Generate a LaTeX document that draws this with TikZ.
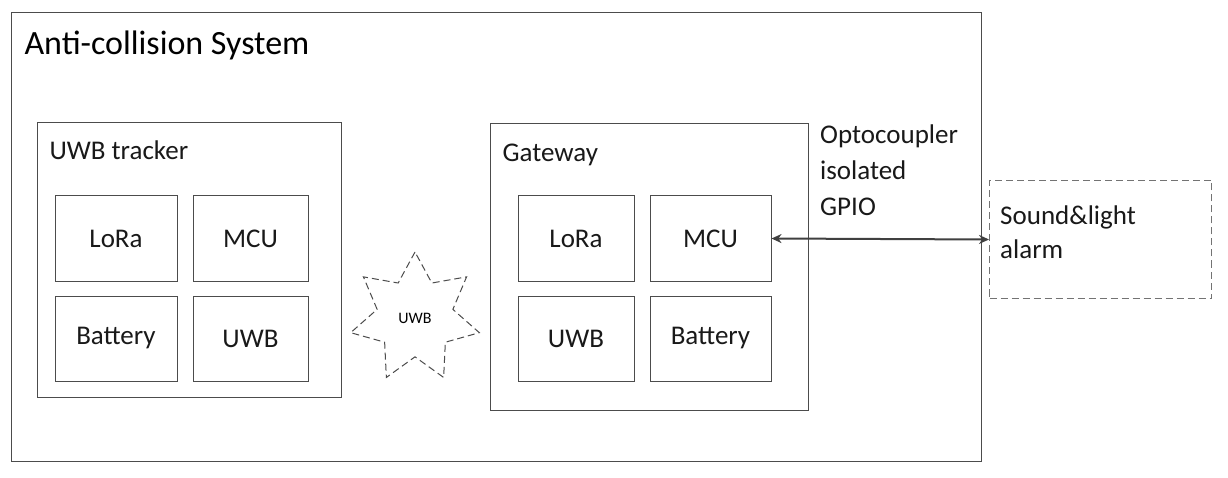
\documentclass[tikz,border=0pt]{standalone}
\usepackage{fontspec}
\setmainfont{Carlito}
\usetikzlibrary{shapes.geometric,arrows.meta}
\begin{document}
\begin{tikzpicture}[x=1pt,y=-1pt,
  box/.style={draw=black!70,line width=1pt,fill=white},
  lbl/.style={font=\fontsize{27}{33}\selectfont,text=black!90},
  inner/.style={box,lbl},
  dsh/.style={dash pattern=on 7pt off 4pt}]
\useasboundingbox (0,0) rectangle (1228,478);
\draw[box] (11,13) rectangle (981,461);
\node[anchor=base west,font=\fontsize{34}{40}\selectfont] (title) at (21,55) {Anti-collision System};
% tracker
\draw[box] (37,123) rectangle (341,397);
\node[lbl,anchor=base west] (tl) at (46,160) {UWB tracker};
\node[inner,minimum width=122,minimum height=85] (t1) at (116,238.5) {LoRa};
\node[inner,minimum width=115,minimum height=85] (t2) at (250.5,238.5) {MCU};
\node[inner,minimum width=122,minimum height=85] (t3) at (116,338.5) {Battery};
\node[inner,minimum width=115,minimum height=85] (t4) at (250.5,338.5) {UWB};
% star
\node[star,star points=7,star point ratio=1.7,draw=black!70,dsh,line width=1pt,minimum size=132,font=\fontsize{16}{19}\selectfont] (star) at (415,318) {UWB};
% gateway
\draw[box] (490,124) rectangle (808,410);
\node[lbl,anchor=base west] (gl) at (499,162) {Gateway};
\node[inner,minimum width=116,minimum height=85] (g1) at (576,238.5) {LoRa};
\node[inner,minimum width=121,minimum height=85] (g2) at (710.5,238.5) {MCU};
\node[inner,minimum width=116,minimum height=85] (g3) at (576,338.5) {UWB};
\node[inner,minimum width=121,minimum height=85] (g4) at (710.5,338.5) {Battery};
% alarm
\node[draw=black!55,dsh,line width=1pt,minimum width=222,minimum height=118,anchor=north west] (al) at (989,180) {};
\node[lbl,anchor=north west,align=left,inner sep=0] (alt) at (1000,206) {Sound\&light\\[1pt]alarm};
\draw[black!75,line width=2pt,{Stealth[length=10pt,width=9pt]}-{Stealth[length=10pt,width=9pt]}] (g2.east) -- (al.west);
\node[lbl,anchor=north west,align=left,inner sep=0] (opt) at (820,125) {Optocoupler\\[3pt]isolated\\[3pt]GPIO};
\end{tikzpicture}
\end{document}
